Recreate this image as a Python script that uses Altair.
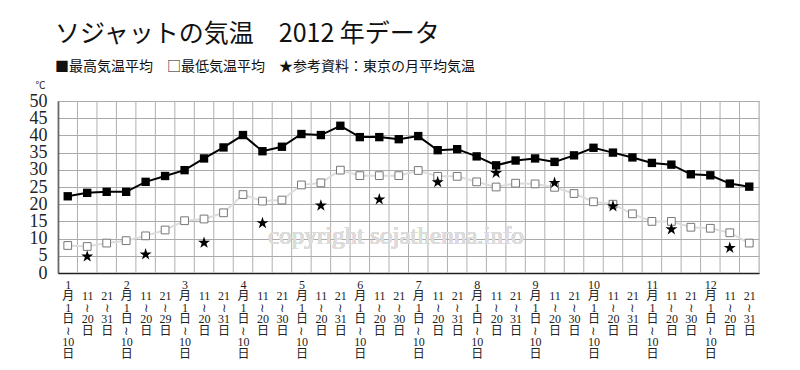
import altair as alt
import pandas as pd

# ---- data ----
months = list(range(1, 13))
month_end = [31, 29, 31, 30, 31, 30, 31, 31, 30, 31, 30, 31]
max_avg = [22.3, 23.3, 23.6, 23.6, 26.5, 28.2, 29.9, 33.3, 36.5, 40.1, 35.4, 36.7,
           40.4, 40.1, 42.8, 39.5, 39.5, 38.9, 39.8, 35.7, 36.0, 33.9, 31.3, 32.7,
           33.3, 32.3, 34.2, 36.4, 35.0, 33.6, 32.0, 31.5, 28.7, 28.4, 26.0, 25.1]
min_avg = [8.0, 7.7, 8.7, 9.4, 10.8, 12.5, 15.2, 15.7, 17.5, 22.8, 20.9, 21.2,
           25.6, 26.2, 29.9, 28.3, 28.3, 28.3, 29.8, 28.1, 28.1, 26.5, 25.0, 26.1,
           25.9, 24.9, 23.1, 20.7, 20.0, 17.2, 15.0, 15.0, 13.3, 13.0, 11.7, 8.7]
tokyo = [4.8, 5.4, 8.8, 14.5, 19.6, 21.4, 26.4, 29.1, 26.2, 19.4, 12.7, 7.3]
y_ticks = list(range(0, 51, 5))

title_text = "ソジャットの気温　2012 年データ"
legend_text = "■最高気温平均　□最低気温平均　★参考資料：東京の月平均気温"
watermark = "copyright sojathenna.info"

# ---- build tables ----
labels = []
for m, e in zip(months, month_end):
    labels.append(f"{m}|月|1|日|≀|10|日")
    labels.append("|||11|≀|20|日")
    labels.append(f"|||21|≀|{e}|日")

n = len(labels)
df = pd.DataFrame({"i": list(range(n)), "max": max_avg, "min": min_avg})
tk = pd.DataFrame({"i": [3 * k + 1 for k in range(12)], "t": tokyo})
vgrid = pd.DataFrame({"b": [k - 0.5 for k in range(n + 1)]})

label_arr = "[" + ",".join("'" + s + "'" for s in labels) + "]"

xscale = alt.Scale(domain=[-0.5, n - 0.5], nice=False, zero=False)
yscale = alt.Scale(domain=[0, 50], nice=False)

x_axis = alt.Axis(values=list(range(n)), labelExpr=f"split({label_arr}[datum.value], '|')",
                  labelAngle=0, ticks=False, grid=False, domainColor="#222",
                  domainWidth=1.5, labelFont="Liberation Serif, Noto Sans CJK JP",
                  labelFontSize=12, labelLineHeight=11.5, labelColor="#222",
                  labelPadding=6, labelBaseline="top", labelOverlap=False,
                  labelFlush=False, title=None)
y_axis = alt.Axis(values=y_ticks, grid=True, gridColor="#aaaaaa", gridWidth=1,
                  ticks=False, domainColor="#222", domainWidth=1.5,
                  labelFont="Liberation Serif", labelFontSize=18, labelColor="#222",
                  labelPadding=11, labelOverlap=False, labelFlush=False,
                  title="℃", titleAngle=0, titleX=-18, titleY=-16,
                  titleAlign="center", titleBaseline="middle",
                  titleFont="Noto Sans CJK JP", titleFontSize=10,
                  titleFontWeight="normal", titleColor="#222")


def X(f):
    return alt.X(f, scale=xscale, axis=x_axis)


def Y(f):
    return alt.Y(f, scale=yscale, axis=y_axis)


STAR = "M0,-1L0.2245,-0.309L0.951,-0.309L0.363,0.118L0.588,0.809L0,0.382L-0.588,0.809L-0.363,0.118L-0.951,-0.309L-0.2245,-0.309Z"

base = alt.Chart(df)

grid_v = alt.Chart(vgrid).mark_rule(color="#b0b0b0", strokeWidth=1).encode(
    x=X("b:Q")
)

wm = alt.Chart(df).mark_text(
    text=watermark, font="Liberation Serif", fontSize=25, color="#dcdcdc",
    align="center", baseline="middle"
).encode(x=alt.value(338), y=alt.value(135))

min_line = base.mark_line(color="#dcdcdc", strokeWidth=2).encode(x=X("i:Q"), y=Y("min:Q"))
min_pts = base.mark_point(shape="square", size=60, filled=True, fill="white",
                          stroke="#777777", strokeWidth=1, opacity=1).encode(
    x=X("i:Q"), y=Y("min:Q"))

max_line = base.mark_line(color="#000000", strokeWidth=2).encode(x=X("i:Q"), y=Y("max:Q"))
max_pts = base.mark_point(shape="square", size=70, filled=True, color="#000000",
                          opacity=1).encode(x=X("i:Q"), y=Y("max:Q"))

stars = alt.Chart(tk).mark_point(shape=STAR, size=160, filled=True, color="#000000",
                                 opacity=1).encode(x=X("i:Q"), y=Y("t:Q"))

chart = alt.layer(grid_v, wm, min_line, min_pts, max_line, max_pts, stars).properties(
    width=701, height=172,
    title=alt.TitleParams(text=title_text, subtitle=legend_text, anchor="start",
                          frame="group", dx=-3, font="Noto Sans CJK JP", fontSize=25,
                          fontWeight="normal", color="#111",
                          subtitleFont="Noto Sans CJK JP", subtitleFontSize=14,
                          subtitleColor="#111", subtitlePadding=13, offset=6),
    autosize=alt.AutoSizeParams(type="none"),
    padding={"left": 50, "top": 93, "right": 33, "bottom": 89},
).configure_view(stroke="#aaaaaa", strokeWidth=1).configure(background="white")

chart.save("out.html", embed_options={"renderer": "svg", "actions": False})
